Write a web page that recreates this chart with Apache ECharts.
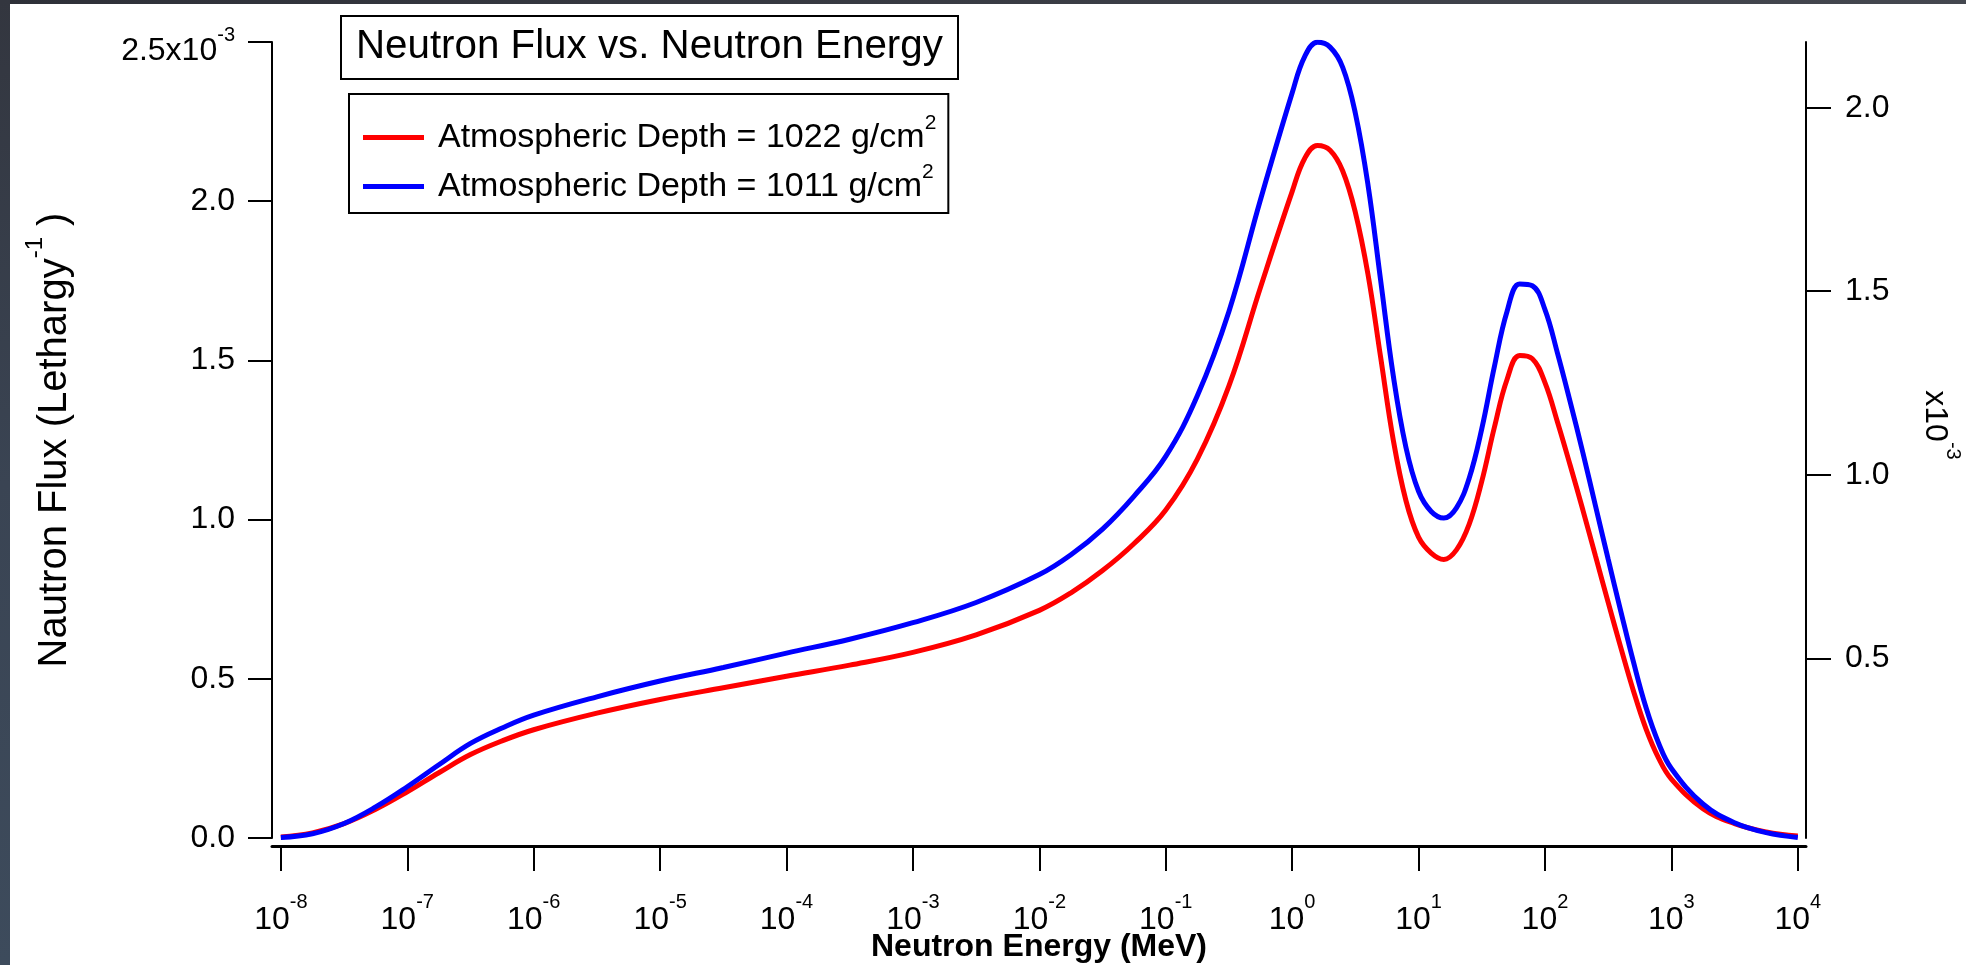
<!DOCTYPE html>
<html>
<head>
<meta charset="utf-8">
<script src="https://cdn.jsdelivr.net/npm/echarts@6/dist/echarts.min.js"></script>
<style>
  html, body { margin: 0; padding: 0; background: #ffffff; }
  #chart { width: 1966px; height: 965px; }
</style>
</head>
<body>
<div id="chart"></div>
<script>
// log10 of neutron energy in MeV
const logEnergy = [
  -8.00, -7.75, -7.50, -7.25, -7.00, -6.75, -6.50, -6.25, -6.00, -5.50,
  -5.00, -4.50, -4.00, -3.50, -3.00, -2.50, -2.00, -1.75, -1.50, -1.25,
  -1.00, -0.75, -0.50, -0.25, 0.00, 0.10, 0.20, 0.30, 0.40, 0.50,
  0.60, 0.70, 0.80, 0.90, 1.00, 1.10, 1.20, 1.30, 1.40, 1.50,
  1.60, 1.70, 1.80, 1.90, 2.00, 2.10, 2.20, 2.30, 2.40, 2.50,
  2.60, 2.70, 2.80, 2.90, 3.00, 3.25, 3.50, 3.75, 4.00
];

// Flux per unit lethargy (x10^-3), atmospheric depth 1022 g/cm2 (left axis)
const flux1022 = [
  0.003, 0.016, 0.045, 0.090, 0.145, 0.205, 0.262, 0.305, 0.340, 0.392,
  0.435, 0.472, 0.508, 0.543, 0.583, 0.638, 0.715, 0.770, 0.840, 0.925,
  1.030, 1.190, 1.420, 1.730, 2.030, 2.135, 2.175, 2.160, 2.095, 1.965,
  1.770, 1.510, 1.250, 1.060, 0.945, 0.895, 0.875, 0.905, 0.985, 1.120,
  1.290, 1.440, 1.515, 1.505, 1.430, 1.305, 1.170, 1.030, 0.885, 0.740,
  0.598, 0.462, 0.342, 0.250, 0.185, 0.092, 0.045, 0.019, 0.006
];

// Flux per unit lethargy (x10^-3), atmospheric depth 1011 g/cm2 (right axis)
const flux1011 = [
  0.012, 0.022, 0.050, 0.095, 0.150, 0.210, 0.268, 0.310, 0.345, 0.395,
  0.438, 0.475, 0.514, 0.552, 0.597, 0.652, 0.728, 0.782, 0.852, 0.942,
  1.050, 1.215, 1.445, 1.750, 2.040, 2.140, 2.178, 2.165, 2.110, 1.985,
  1.790, 1.530, 1.270, 1.075, 0.955, 0.900, 0.882, 0.910, 0.990, 1.125,
  1.295, 1.445, 1.520, 1.515, 1.450, 1.330, 1.198, 1.060, 0.915, 0.770,
  0.628, 0.490, 0.365, 0.268, 0.200, 0.103, 0.052, 0.025, 0.012
];

const depths = [1022, 1011];
const decadeTicks = [-8, -7, -6, -5, -4, -3, -2, -1, 0, 1, 2, 3, 4];
const leftTicks = [0, 0.5, 1, 1.5, 2, 2.5];
const rightTicks = [0.5, 1, 1.5, 2];

const FONT = "'Liberation Sans', Arial, sans-serif";
const INK = '#000000';

// base text + raised exponent
const supRich = {
  b: { fontFamily: FONT, fontSize: 32, lineHeight: 32, verticalAlign: 'bottom', color: INK },
  s: { fontFamily: FONT, fontSize: 20, lineHeight: 20, verticalAlign: 'bottom', padding: [0, 0, 24, 0], color: INK },
  // top label of the left axis sits a little lower than its tick
  bt: { fontFamily: FONT, fontSize: 32, lineHeight: 32, verticalAlign: 'top', padding: [9, 0, 0, 0], color: INK },
  st: { fontFamily: FONT, fontSize: 20, lineHeight: 20, verticalAlign: 'bottom', padding: [0, 0, 13, 0], color: INK }
};

const chart = echarts.init(document.getElementById('chart'), null, { renderer: 'canvas' });

const option = {
  backgroundColor: '#ffffff',
  animation: false,
  textStyle: { fontFamily: FONT, color: INK },
  title: {
    text: 'Neutron Flux vs. Neutron Energy',
    left: 341,
    top: 16,
    borderColor: INK,
    borderWidth: 2,
    padding: [8, 15, 9, 15],
    textStyle: { fontFamily: FONT, fontSize: 40.3, fontWeight: 'normal', color: INK, lineHeight: 46 }
  },
  legend: {
    orient: 'vertical',
    left: 349,
    top: 94,
    borderColor: INK,
    borderWidth: 2,
    padding: [19, 12, 2, 14],
    itemGap: 0,
    icon: 'rect',
    itemWidth: 61,
    itemHeight: 5,
    data: depths.map(d => 'Atmospheric Depth = ' + d + ' g/cm2'),
    formatter: name => '{a|' + name.slice(0, -1) + '}{s|2}',
    textStyle: {
      rich: {
        a: { fontFamily: FONT, fontSize: 34, lineHeight: 34, color: INK, padding: [0, 0, 0, 9] },
        s: { fontFamily: FONT, fontSize: 21, lineHeight: 21, color: INK, padding: [0, 0, 28, 0] }
      }
    }
  },
  graphic: [
    {
      type: 'rect', left: 0, top: 0, z: 100,
      shape: { width: 1966, height: 4 },
      style: { fill: new echarts.graphic.LinearGradient(0, 0, 1, 0, [
        { offset: 0, color: '#2e3038' }, { offset: 1, color: '#44474f' }]) }
    },
    {
      type: 'rect', left: 0, top: 0, z: 100,
      shape: { width: 10, height: 965 },
      style: { fill: new echarts.graphic.LinearGradient(0, 0, 0, 1, [
        { offset: 0, color: '#33363f' }, { offset: 0.5, color: '#3a4453' }, { offset: 1, color: '#3d4b5c' }]) }
    }
  ],
  grid: { left: 272, right: 160, top: 42, bottom: 127, containLabel: false, outerBoundsMode: 'none' },
  xAxis: {
    type: 'value',
    min: -8.07,
    max: 4.065,
    offset: 8,
    splitLine: { show: false },
    axisLine: { show: true, onZero: false, lineStyle: { color: INK, width: 3 } },
    axisTick: { show: true, inside: false, length: 25, lineStyle: { color: INK, width: 2 }, customValues: decadeTicks },
    axisLabel: {
      customValues: decadeTicks,
      margin: 58,
      formatter: v => '{b|10}{s|' + v + '}',
      rich: supRich
    },
    name: 'Neutron Energy (MeV)',
    nameLocation: 'middle',
    nameGap: 85,
    nameMoveOverlap: false,
    nameTextStyle: { fontFamily: FONT, fontSize: 32, fontWeight: 'bold', color: INK }
  },
  yAxis: [
    {
      type: 'value',
      position: 'left',
      min: 0,
      max: 2.5,
      interval: 0.5,
      splitLine: { show: false },
      axisLine: { show: true, onZero: false, lineStyle: { color: INK, width: 2 } },
      axisTick: { show: true, inside: false, length: 24, lineStyle: { color: INK, width: 2 }, customValues: leftTicks },
      axisLabel: {
        customValues: leftTicks,
        margin: 37,
        formatter: v => v === 2.5 ? '{bt|2.5x10}{st|-3}' : '{b|' + v.toFixed(1) + '}',
        rich: supRich
      },
      name: '{t|Nautron Flux (Lethargy}{ts|-1}{t| )}',
      nameLocation: 'middle',
      nameGap: 197,
      nameTextStyle: {
        rich: {
          t: { fontFamily: FONT, fontSize: 40, lineHeight: 40, verticalAlign: 'bottom', color: INK },
          ts: { fontFamily: FONT, fontSize: 24, lineHeight: 24, verticalAlign: 'bottom', padding: [0, 0, 28, 0], color: INK }
        }
      }
    },
    {
      type: 'value',
      position: 'right',
      min: 0.0104,
      max: 2.179,
      splitLine: { show: false },
      axisLine: { show: true, onZero: false, lineStyle: { color: INK, width: 2 } },
      axisTick: { show: true, inside: false, length: 25, lineStyle: { color: INK, width: 2 }, customValues: rightTicks },
      axisLabel: {
        customValues: rightTicks,
        margin: 39,
        formatter: v => '{b|' + v.toFixed(1) + '}',
        rich: supRich
      },
      name: '{b|x10}{s|-3}',
      nameLocation: 'middle',
      nameRotate: -90,
      nameGap: 113,
      nameTextStyle: { rich: supRich, padding: [0, 30, 0, 0] }
    }
  ],
  series: [
    {
      name: 'Atmospheric Depth = ' + depths[0] + ' g/cm2',
      type: 'line',
      yAxisIndex: 0,
      data: logEnergy.map((x, i) => [x, flux1022[i]]),
      showSymbol: false,
      smooth: 0.4,
      color: '#ff0000',
      lineStyle: { color: '#ff0000', width: 5 },
      z: 2
    },
    {
      name: 'Atmospheric Depth = ' + depths[1] + ' g/cm2',
      type: 'line',
      yAxisIndex: 1,
      data: logEnergy.map((x, i) => [x, flux1011[i]]),
      showSymbol: false,
      smooth: 0.4,
      color: '#0000ff',
      lineStyle: { color: '#0000ff', width: 5 },
      z: 3
    }
  ]
};

chart.setOption(option);
</script>
</body>
</html>
